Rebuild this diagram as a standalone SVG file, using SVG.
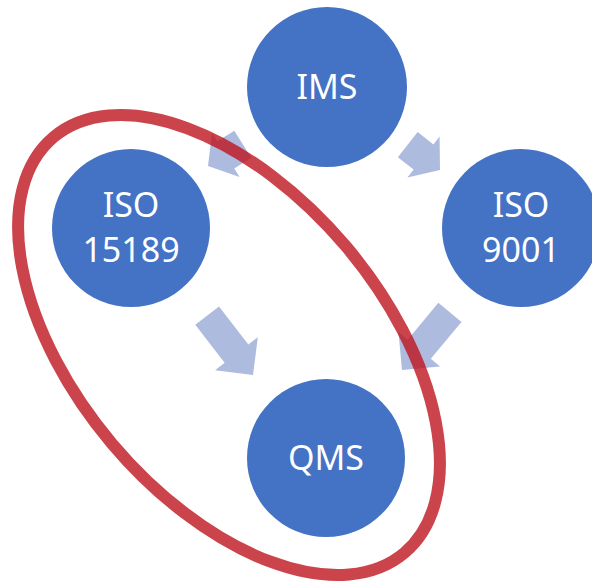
<svg xmlns="http://www.w3.org/2000/svg" width="592" height="585" viewBox="0 0 592 585">
<style>
.node circle{fill:#4472C4}
.node text{fill:#fff;font-family:"Noto Sans","Open Sans","Liberation Sans",sans-serif;font-size:34px;text-anchor:middle}
.arrow{fill:#ADBBDF}
.ring{fill:none;stroke:rgb(190,20,30);stroke-opacity:0.8;stroke-width:12}
</style>
<defs>
<path id="shortArrow" d="M-41,-16 L-21,-16 L-21,-26 L0,0 L-21,26 L-21,16 L-41,16 Z"/>
<path id="longArrow" d="M-75,-15 L-27,-15 L-27,-27 L0,0 L-27,27 L-27,15 L-75,15 Z"/>
</defs>
<rect width="592" height="585" fill="#fff"/>
<g id="connectors">
<use href="#shortArrow" class="arrow" transform="translate(208,166) rotate(148)"/>
<use href="#shortArrow" class="arrow" transform="translate(440,170) rotate(38.2)"/>
<use href="#longArrow" class="arrow" transform="translate(253,375) rotate(52.3)"/>
<use href="#longArrow" class="arrow" transform="translate(402,370) rotate(129.7)"/>
</g>
<g id="ims" class="node"><circle cx="327" cy="87" r="80"/><text x="327" y="99">IMS</text></g>
<g id="iso15189" class="node"><circle cx="131" cy="228" r="79"/><text x="131" y="217">ISO</text><text x="131" y="262">15189</text></g>
<g id="iso9001" class="node"><circle cx="521" cy="228" r="79"/><text x="521" y="217">ISO</text><text x="521" y="262">9001</text></g>
<g id="qms" class="node"><circle cx="326" cy="458" r="79"/><text x="326" y="470">QMS</text></g>
<g id="highlight"><ellipse class="ring" cx="229" cy="345" rx="272" ry="153" transform="rotate(49.8 229 345)"/></g>
</svg>
